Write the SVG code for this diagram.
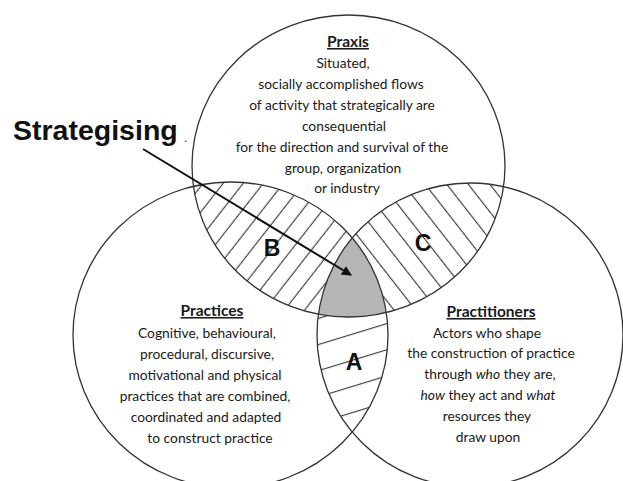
<svg xmlns="http://www.w3.org/2000/svg" width="623" height="481" viewBox="0 0 623 481">
  <defs>
    <style>
      .ring { fill: none; stroke: #333; stroke-width: 1.3; }
      .hatch { stroke: #333; stroke-width: 1.1; }
      .body { font-family: Lato, "Open Sans", sans-serif; font-size: 13.8px; fill: #1a1a1a; text-anchor: middle; }
      .head { font-family: Lato, "Open Sans", sans-serif; font-size: 15.5px; font-weight: bold; fill: #1a1a1a; text-anchor: middle; text-decoration: underline; }
      .zone { font-family: "Liberation Sans", Arial, sans-serif; font-size: 23px; font-weight: bold; fill: #111; text-anchor: middle; }
      .title { font-family: "Liberation Sans", Arial, sans-serif; font-size: 28.5px; font-weight: bold; fill: #111; }
      .conn { stroke: #111; stroke-width: 2; fill: none; }
    </style>
    <clipPath id="clipTop"><ellipse cx="348.5" cy="166" rx="156.5" ry="151"/></clipPath>
    <clipPath id="clipLeft"><ellipse cx="230.5" cy="335" rx="157.5" ry="153"/></clipPath>
    <clipPath id="clipRight"><ellipse cx="470" cy="335" rx="153" ry="152"/></clipPath>
    <!-- diagonal hatching, rising to the right -->
    <pattern id="hatchB" patternUnits="userSpaceOnUse" width="15.8" height="20" patternTransform="rotate(38)">
      <line class="hatch" x1="4.3" y1="-2" x2="4.3" y2="22"/>
    </pattern>
    <!-- diagonal hatching, falling to the right -->
    <pattern id="hatchC" patternUnits="userSpaceOnUse" width="17" height="20" patternTransform="rotate(-38)">
      <line class="hatch" x1="0.6" y1="-2" x2="0.6" y2="22"/>
    </pattern>
    <!-- shallow hatching -->
    <pattern id="hatchA" patternUnits="userSpaceOnUse" width="20" height="25" patternTransform="rotate(-17)">
      <line class="hatch" x1="-2" y1="22.6" x2="22" y2="22.6"/>
    </pattern>
    <marker id="arrowHead" viewBox="0 0 10 10" refX="9" refY="5" markerWidth="5" markerHeight="5" orient="auto" markerUnits="strokeWidth">
      <path d="M0,0 L10,5 L0,10 z" fill="#111"/>
    </marker>
  </defs>

  <!-- overlap regions -->
  <g id="overlaps">
    <g clip-path="url(#clipTop)"><g clip-path="url(#clipLeft)"><rect x="150" y="150" width="260" height="180" fill="url(#hatchB)"/></g></g>
    <g clip-path="url(#clipTop)"><g clip-path="url(#clipRight)"><rect x="300" y="150" width="230" height="180" fill="url(#hatchC)"/></g></g>
    <g clip-path="url(#clipLeft)"><g clip-path="url(#clipRight)"><rect x="300" y="220" width="110" height="230" fill="url(#hatchA)"/></g></g>
    <g clip-path="url(#clipTop)"><g clip-path="url(#clipLeft)"><g clip-path="url(#clipRight)"><rect x="300" y="220" width="110" height="110" fill="#b5b5b5"/></g></g></g>
    <text class="zone" x="272" y="256">B</text>
    <text class="zone" x="423" y="251">C</text>
    <text class="zone" x="354" y="370">A</text>
  </g>

  <g id="praxis">
    <ellipse class="ring" cx="348.5" cy="166" rx="156.5" ry="151"/>
    <text class="head" x="348" y="47">Praxis</text>
    <text class="body" x="343" y="68">Situated,</text>
    <text class="body" x="341" y="89">socially accomplished flows</text>
    <text class="body" x="342" y="110">of activity that strategically are</text>
    <text class="body" x="344" y="131">consequential</text>
    <text class="body" x="342" y="152">for the direction and survival of the</text>
    <text class="body" x="343" y="173">group, organization</text>
    <text class="body" x="347" y="193">or industry</text>
  </g>

  <g id="practices">
    <ellipse class="ring" cx="230.5" cy="335" rx="157.5" ry="153"/>
    <text class="head" x="212" y="316">Practices</text>
    <text class="body" x="207" y="338">Cognitive, behavioural,</text>
    <text class="body" x="207" y="359">procedural, discursive,</text>
    <text class="body" x="205" y="380">motivational and physical</text>
    <text class="body" x="205" y="401">practices that are combined,</text>
    <text class="body" x="206" y="422">coordinated and adapted</text>
    <text class="body" x="210" y="443">to construct practice</text>
  </g>

  <g id="practitioners">
    <ellipse class="ring" cx="470" cy="335" rx="153" ry="152"/>
    <text class="head" x="491" y="317">Practitioners</text>
    <text class="body" x="487" y="338">Actors who shape</text>
    <text class="body" x="491" y="358">the construction of practice</text>
    <text class="body" x="490" y="379">through <tspan font-style="italic">who</tspan> they are,</text>
    <text class="body" x="488" y="400"><tspan font-style="italic">how</tspan> they act and <tspan font-style="italic">what</tspan></text>
    <text class="body" x="487" y="421">resources they</text>
    <text class="body" x="488" y="442">draw upon</text>
  </g>

  <g id="strategising">
    <text class="title" x="13" y="140">Strategising</text>
    <text x="184" y="142" font-family="Liberation Sans, Arial, sans-serif" font-size="12" fill="#111">.</text>
  </g>

  <g id="connectors">
    <line class="conn" x1="143" y1="149" x2="351" y2="275" marker-end="url(#arrowHead)"/>
  </g>
</svg>
